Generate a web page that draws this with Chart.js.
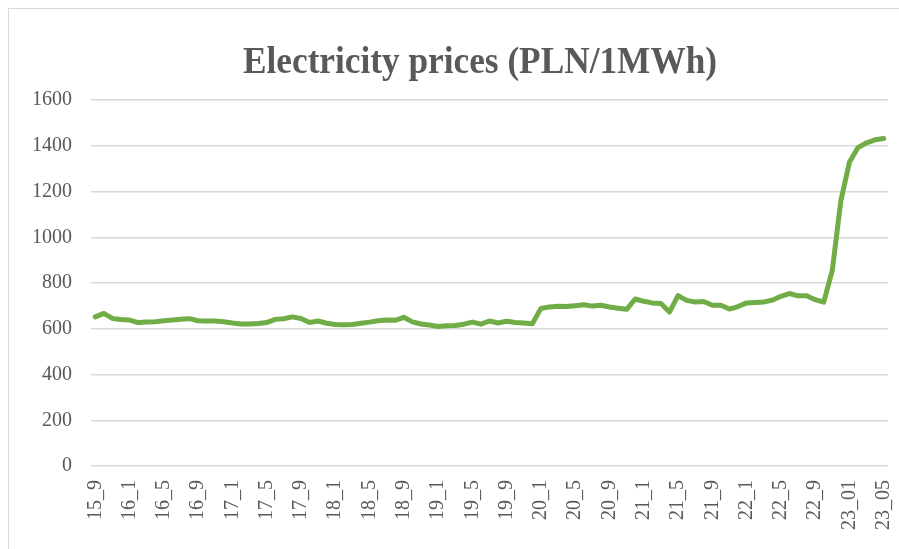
<!DOCTYPE html>
<html><head><meta charset="utf-8">
<script src="https://cdn.jsdelivr.net/npm/chart.js@4"></script>
<style>
html,body{margin:0;padding:0;background:#fff;overflow:hidden}
#wrap{position:absolute;left:0;top:0;width:899px;height:549px}
#c{position:absolute;left:0;top:0}
#frame{position:absolute;left:8px;top:8px;width:905px;height:560px;border:1.5px solid #d9d9d9;box-sizing:border-box;pointer-events:none}
</style></head>
<body>
<div id="wrap"><canvas id="c" width="899" height="549"></canvas><div id="frame"></div></div>
<script>
const chartTitle = 'Electricity prices (PLN/1MWh)';
const months = [
 '15_9','15_10','15_11','15_12',
 '16_1','16_2','16_3','16_4','16_5','16_6','16_7','16_8','16_9','16_10','16_11','16_12',
 '17_1','17_2','17_3','17_4','17_5','17_6','17_7','17_8','17_9','17_10','17_11','17_12',
 '18_1','18_2','18_3','18_4','18_5','18_6','18_7','18_8','18_9','18_10','18_11','18_12',
 '19_1','19_2','19_3','19_4','19_5','19_6','19_7','19_8','19_9','19_10','19_11','19_12',
 '20_1','20_2','20_3','20_4','20_5','20_6','20_7','20_8','20_9','20_10','20_11','20_12',
 '21_1','21_2','21_3','21_4','21_5','21_6','21_7','21_8','21_9','21_10','21_11','21_12',
 '22_1','22_2','22_3','22_4','22_5','22_6','22_7','22_8','22_9','22_10','22_11','22_12',
 '23_01','23_02','23_03','23_04','23_05'
];
const prices = [
 652,667,645,640,
 638,627,630,631,635,638,642,644,635,634,634,631,
 625,621,621,623,627,641,644,652,645,627,634,624,
 619,618,619,624,629,635,638,637,650,630,621,616,
 610,613,614,620,629,620,634,625,633,627,625,622,
 689,695,698,697,701,705,699,703,695,690,685,730,
 720,713,710,673,745,724,717,719,703,703,686,697,
 713,715,717,725,742,754,744,744,727,716,855,1160,
 1328,1392,1413,1426,1432
];
const yTicks = {min:0, max:1600, step:200};
const labelEvery = 4;

const textColor = '#595959';
const serif = '"Liberation Serif","Times New Roman",serif';

const titlePlugin = {
  id:'fixedTitle',
  afterDraw(chart){
    const ctx = chart.ctx;
    ctx.save();
    ctx.font = 'bold 37px ' + serif;
    ctx.fillStyle = textColor;
    ctx.textBaseline = 'alphabetic';
    ctx.textAlign = 'center';
    const w = ctx.measureText(chartTitle).width;
    const sx = 474 / w;
    ctx.translate(480, 73);
    ctx.scale(sx, 1);
    ctx.fillText(chartTitle, 0, 0);
    ctx.restore();
  }
};

new Chart(document.getElementById('c'), {
  type:'line',
  data:{labels:months, datasets:[{
    data:prices, borderColor:'#70ad47', backgroundColor:'#70ad47', borderWidth:5,
    pointRadius:0, tension:0, borderJoinStyle:'round', borderCapStyle:'round', fill:false
  }]},
  options:{
    responsive:false, animation:false,
    layout:{padding:{left:0,right:11,top:100,bottom:0}},
    plugins:{legend:{display:false}, tooltip:{enabled:false}, title:{display:false}},
    scales:{
      x:{
        offset:true,
        grid:{display:false, drawTicks:false},
        border:{display:false},
        ticks:{autoSkip:false, maxRotation:90, minRotation:90, padding:14, color:textColor,
          font:{family:serif, size:20},
          callback:(v,i)=> i%labelEvery===0 ? months[i] : ''},
        afterFit:s=>{s.height=83; s.paddingLeft=0; s.paddingRight=0;}
      },
      y:{
        min:yTicks.min, max:yTicks.max,
        ticks:{stepSize:yTicks.step, padding:19, color:textColor, font:{family:serif, size:20},
          callback:v=>String(v)},
        grid:{color:'#d9d9d9', lineWidth:1.5, drawTicks:false},
        border:{display:false},
        afterFit:s=>{s.width=91; s.paddingTop=0; s.paddingBottom=0;}
      }
    }
  },
  plugins:[titlePlugin]
});
</script>
</body></html>
